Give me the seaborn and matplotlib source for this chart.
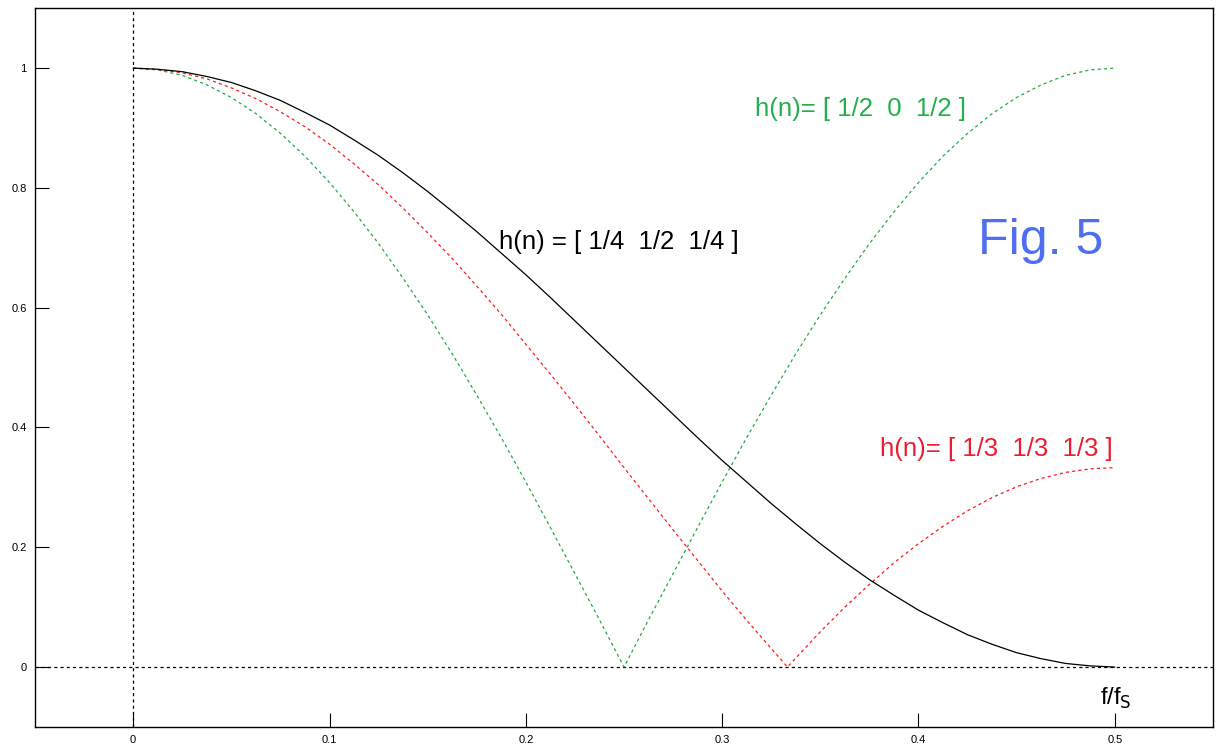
import numpy as np
import pandas as pd
import matplotlib
matplotlib.use('Agg')
import matplotlib.pyplot as plt
import seaborn as sns

# frequency samples (f/fs) and magnitudes
f_vals = [0, 0.0125, 0.025, 0.0375, 0.05, 0.0625, 0.075, 0.0875, 0.1, 0.1125,
          0.125, 0.1375, 0.15, 0.1625, 0.175, 0.1875, 0.2, 0.2125, 0.225, 0.2375,
          0.25, 0.2625, 0.275, 0.2875, 0.3, 0.3125, 0.325, 0.3375, 0.35, 0.3625,
          0.375, 0.3875, 0.4, 0.4125, 0.425, 0.4375, 0.45, 0.4625, 0.475, 0.4875, 0.5]

h_black = [1.0, 0.998, 0.994, 0.986, 0.976, 0.962, 0.946, 0.926, 0.905, 0.880,
           0.854, 0.825, 0.794, 0.761, 0.727, 0.691, 0.655, 0.617, 0.578, 0.539,
           0.5, 0.461, 0.422, 0.383, 0.345, 0.309, 0.273, 0.239, 0.206, 0.175,
           0.146, 0.120, 0.095, 0.074, 0.054, 0.038, 0.024, 0.014, 0.006, 0.002, 0.0]

h_green = [1.0, 0.997, 0.988, 0.972, 0.951, 0.924, 0.891, 0.853, 0.809, 0.760,
           0.707, 0.649, 0.588, 0.523, 0.454, 0.383, 0.309, 0.233, 0.156, 0.079,
           0.0, 0.079, 0.156, 0.233, 0.309, 0.383, 0.454, 0.523, 0.588, 0.649,
           0.707, 0.760, 0.809, 0.853, 0.891, 0.924, 0.951, 0.972, 0.988, 0.997, 1.0]

f_red = [0, 0.0125, 0.025, 0.0375, 0.05, 0.0625, 0.075, 0.0875, 0.1, 0.1125,
         0.125, 0.1375, 0.15, 0.1625, 0.175, 0.1875, 0.2, 0.2125, 0.225, 0.2375,
         0.25, 0.2625, 0.275, 0.2875, 0.3, 0.3125, 0.325, 0.3333, 0.3375, 0.35, 0.3625,
         0.375, 0.3875, 0.4, 0.4125, 0.425, 0.4375, 0.45, 0.4625, 0.475, 0.4875, 0.5]
h_red = [1.0, 0.998, 0.992, 0.982, 0.967, 0.949, 0.927, 0.902, 0.873, 0.840,
         0.805, 0.766, 0.725, 0.682, 0.636, 0.589, 0.539, 0.489, 0.438, 0.386,
         0.333, 0.281, 0.229, 0.178, 0.127, 0.078, 0.031, 0.0, 0.015, 0.059, 0.100,
         0.138, 0.174, 0.206, 0.235, 0.261, 0.283, 0.301, 0.315, 0.325, 0.331, 0.333]

sns.set_style('white')
plt.rcParams['font.family'] = ['Liberation Sans', 'DejaVu Sans']

fig = plt.figure(figsize=(12.16, 7.45), dpi=100)
ax = fig.add_axes([0.0288, 0.0242, 0.9687, 0.9648])

dash = (2.5, 2.5)
ax.axhline(0, color='black', lw=0.9, ls=(0, dash))
ax.axvline(0, color='black', lw=0.9, ls=(0, dash))

sns.lineplot(x=f_vals, y=h_green, ax=ax, color='#22aa44', lw=0.9,
             estimator=None, sort=False)
sns.lineplot(x=f_red, y=h_red, ax=ax, color='#ff1a1a', lw=0.9,
             estimator=None, sort=False)
sns.lineplot(x=f_vals, y=h_black, ax=ax, color='black', lw=0.9,
             estimator=None, sort=False)
ax.lines[2].set_linestyle((0, dash))
ax.lines[3].set_linestyle((0, dash))

ax.set_xlim(-0.05, 0.55)
ax.set_ylim(-0.1, 1.1)
ax.set_xticks([0, 0.1, 0.2, 0.3, 0.4, 0.5])
ax.set_xticklabels(['0', '0.1', '0.2', '0.3', '0.4', '0.5'])
ax.set_yticks([0, 0.2, 0.4, 0.6, 0.8, 1])
ax.set_yticklabels(['0', '0.2', '0.4', '0.6', '0.8', '1'])
ax.tick_params(bottom=True, left=True, top=False, right=False,
               direction='in', length=10, width=0.8, labelsize=8,
               colors='black', pad=6)
for s in ax.spines.values():
    s.set_color('black')
    s.set_linewidth(1.0)

ax.text(0.1864, 0.709, 'h(n) = [ 1/4  1/2  1/4 ]', fontsize=18.5, color='black', va='center')
ax.text(0.3166, 0.932, 'h(n)= [ 1/2  0  1/2 ]', fontsize=18.5, color='#22b04c', va='center')
ax.text(0.3805, 0.364, 'h(n)= [ 1/3  1/3  1/3 ]', fontsize=18.5, color='#ee1c2e', va='center')
ax.text(0.4305, 0.712, 'Fig. 5', fontsize=36, color='#4f6ef0', va='center')
ax.text(0.4925, -0.052, r'f/f$_\mathrm{S}$', fontsize=17, color='black', va='center')

fig.savefig('out.png', dpi=100)
